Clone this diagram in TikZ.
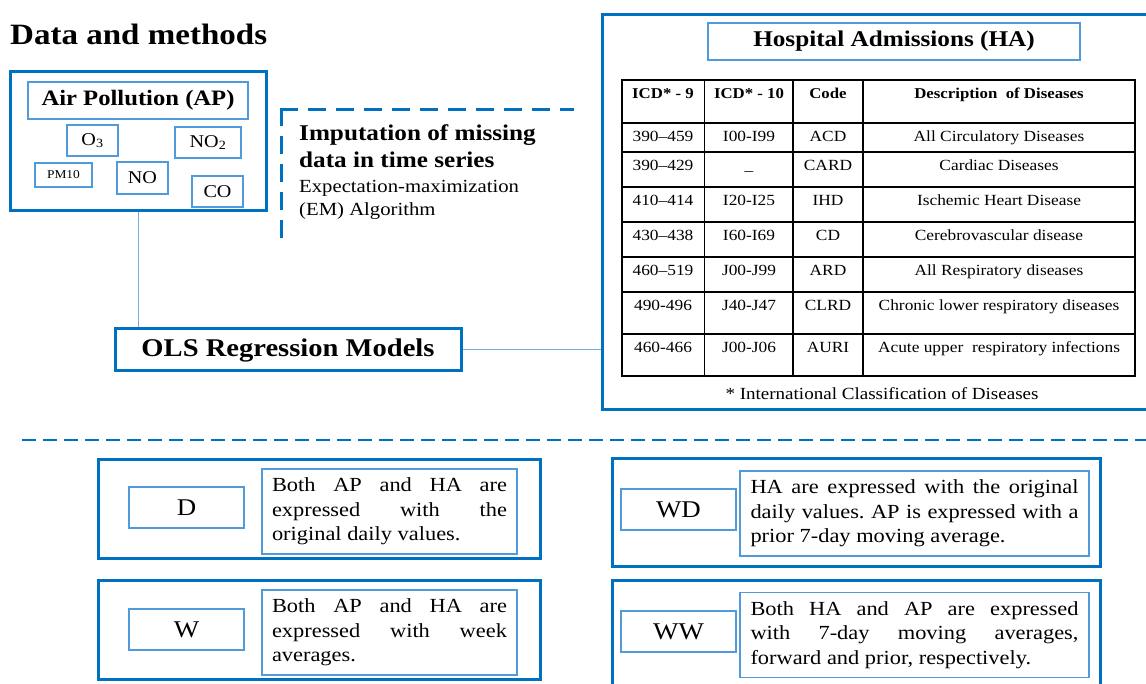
\documentclass[tikz,border=0pt]{standalone}
\usepackage{fontspec}
\setmainfont[FakeStretch=1.12]{Liberation Serif}
\definecolor{dblue}{RGB}{0,112,192}
\definecolor{lblue}{RGB}{80,155,220}
\definecolor{cblue}{RGB}{120,170,225}
\newcommand\fsz[2]{\fontsize{#1}{#2}\selectfont}
\newcommand\jline[2]{\makebox[#1][s]{#2}}
\newcommand\trow[6]{%
  \node[txt] (#1a) at (663,#2) {#3};
  \node[txt] (#1b) at (749,#2) {#4};
  \node[txt] (#1c) at (828,#2) {#5};
  \node[txt] (#1d) at (999,#2) {#6};}
\frenchspacing
\begin{document}
\begin{tikzpicture}[x=1pt,y=-1pt,
  outerbox/.style={draw=dblue,line width=3pt,inner sep=0pt},
  innerbox/.style={draw=lblue,line width=1.3pt,inner sep=0pt,fill=white},
  conn/.style={draw=cblue,line width=1pt},
  bracketline/.style={draw=dblue,line width=3pt,dash pattern=on 18pt off 10pt},
  sepline/.style={draw=dblue,line width=2pt,dash pattern=on 14pt off 7pt},
  gridline/.style={draw=black,line width=1.4pt},
  txt/.style={inner sep=0pt,anchor=base,font=\fsz{15.5}{18}},
  hdr/.style={txt,font=\fsz{15}{18}\bfseries},
  lbl/.style={innerbox,minimum width=115pt,minimum height=41pt,font=\fsz{24}{28}},
  desc/.style={innerbox,minimum height=85pt,align=left,font=\fsz{20}{24.5}},
]
\useasboundingbox (0,0) rectangle (1146,684);
\fill[white] (0,0) rectangle (1146,684);

% title
\node[inner sep=0pt,anchor=base west,font=\fsz{29.5}{34}\bfseries] (title) at (10,45) {Data and methods};

% Air pollution
\node[outerbox,minimum width=256pt,minimum height=139pt] (ap) at (138,141.5) {};
\node[innerbox,minimum width=220pt,minimum height=37pt,font=\fsz{22}{26}\bfseries] (aptitle) at (138,100.5) {Air Pollution (AP)};
\node[innerbox,minimum width=51pt,minimum height=31pt,font=\fsz{18}{22}] (o3) at (92.5,140.5) {O\textsubscript{3}};
\node[innerbox,minimum width=66pt,minimum height=31pt,font=\fsz{18}{22}] (no2) at (208,142.5) {NO\textsubscript{2}};
\node[innerbox,minimum width=57pt,minimum height=24pt,font=\fsz{12}{14}] (pm10) at (63.5,175) {PM10};
\node[innerbox,minimum width=51pt,minimum height=32pt,font=\fsz{18}{22}] (no) at (142.5,178) {NO};
\node[innerbox,minimum width=51pt,minimum height=31pt,font=\fsz{18}{22}] (co) at (217.5,191.5) {CO};

% imputation bracket
\coordinate (bcorner) at (281,110);
\coordinate (bend) at (574,110);
\coordinate (bbot) at (281,238);
\draw[bracketline] ([xshift=-1.5pt]bcorner) -- (bend);
\draw[bracketline] ([yshift=1.5pt]bcorner) -- (bbot);
\node[inner sep=0pt,anchor=base west,font=\fsz{22.5}{26}\bfseries] (imp1) at (299,141) {Imputation of missing};
\node[inner sep=0pt,anchor=base west,font=\fsz{22.5}{26}\bfseries] (imp2) at (299,168) {data in time series};
\node[inner sep=0pt,anchor=base west,font=\fsz{18.5}{22}] (em1) at (299,193) {Expectation-maximization};
\node[inner sep=0pt,anchor=base west,font=\fsz{18.5}{22}] (em2) at (299,216) {(EM) Algorithm};

% OLS
\node[outerbox,minimum width=346pt,minimum height=42pt,font=\fsz{25.5}{30}\bfseries] (ols) at (288,350) {OLS Regression Models};

% Hospital admissions
\node[outerbox,minimum width=548pt,minimum height=395pt] (ha) at (876,212.5) {};
\node[innerbox,minimum width=372pt,minimum height=37pt,font=\fsz{22.5}{27}\bfseries] (hatitle) at (894,41.5) {Hospital Admissions (HA)};

% connectors
\draw[conn] (ap.south) -- (ap.south |- ols.north);
\draw[conn] (ols.east) -- (ols.east -| ha.west);

% table
\draw[gridline] (622,80) rectangle (1135,376);
\foreach \xx in {704.5,793,863} \draw[gridline] (\xx,80) -- (\xx,376);
\foreach \yy in {123,152,187,222,257,292,334} \draw[gridline] (622,\yy) -- (1135,\yy);
\node[hdr] (h1) at (663,99) {ICD* - 9};
\node[hdr] (h2) at (749,99) {ICD* - 10};
\node[hdr] (h3) at (828,99) {Code};
\node[hdr] (h4) at (999,99) {Description\ \ of Diseases};
\trow{ra}{142}{390--459}{I00-I99}{ACD}{All Circulatory Diseases}
\trow{rb}{171}{390--429}{\_}{CARD}{Cardiac Diseases}
\trow{rc}{206}{410--414}{I20-I25}{IHD}{Ischemic Heart Disease}
\trow{rd}{241}{430--438}{I60-I69}{CD}{Cerebrovascular disease}
\trow{re}{276}{460--519}{J00-J99}{ARD}{All Respiratory diseases}
\trow{rf}{311}{490-496}{J40-J47}{CLRD}{Chronic lower respiratory diseases}
\trow{rg}{353}{460-466}{J00-J06}{AURI}{Acute upper\ \ respiratory infections}
\node[txt,font=\fsz{17}{20}] (foot) at (882,400) {* International Classification of Diseases};

% separator
\coordinate (sepL) at (22,440);
\coordinate (sepR) at (1150,440);
\draw[sepline] (sepL) -- (sepR);

% model boxes
\node[outerbox,minimum width=442pt,minimum height=99pt] (dbox) at (319,508.5) {};
\node[lbl] (dlbl) at (186.5,507.5) {D};
\node[desc,minimum width=255pt] (dtxt) at (389.5,511.5) {\jline{235pt}{Both AP and HA are}\\\jline{235pt}{expressed with the}\\original daily values.};

\node[outerbox,minimum width=442pt,minimum height=99pt] (wbox) at (319,629.5) {};
\node[lbl] (wlbl) at (186.5,629.5) {W};
\node[desc,minimum width=255pt] (wtxt) at (389.5,632.5) {\jline{235pt}{Both AP and HA are}\\\jline{235pt}{expressed with week}\\averages.};

\node[outerbox,minimum width=488pt,minimum height=108pt] (wdbox) at (856,512) {};
\node[lbl] (wdlbl) at (678.5,509.5) {WD};
\node[desc,minimum width=349pt] (wdtxt) at (914.5,513.5) {\jline{328pt}{HA are expressed with the original}\\\jline{328pt}{daily values. AP is expressed with a}\\prior 7-day moving average.};

\node[outerbox,minimum width=488pt,minimum height=110pt] (wwbox) at (856,635) {};
\node[lbl] (wwlbl) at (678.5,631.5) {WW};
\node[desc,minimum width=349pt] (wwtxt) at (914.5,635) {\jline{328pt}{Both HA and AP are expressed}\\\jline{328pt}{with 7-day moving averages,}\\forward and prior, respectively.};
\end{tikzpicture}
\end{document}
